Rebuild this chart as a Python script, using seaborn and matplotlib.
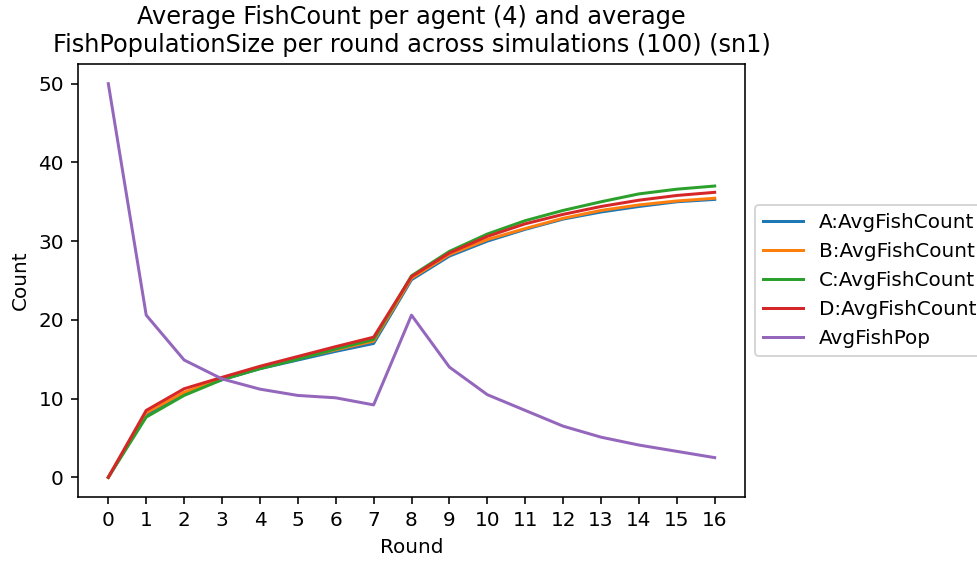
import matplotlib
matplotlib.use("Agg")
import matplotlib.pyplot as plt
import seaborn as sns
import pandas as pd

rounds = list(range(17))

a_fish = [0.0, 8.0, 10.7, 12.4, 13.8, 14.9, 16.0, 17.0, 25.1, 28.1, 30.0, 31.5, 32.8, 33.7, 34.4, 35.0, 35.3]
b_fish = [0.0, 8.2, 10.8, 12.5, 13.9, 15.1, 16.2, 17.3, 25.3, 28.3, 30.2, 31.6, 32.9, 33.9, 34.6, 35.1, 35.45]
c_fish = [0.0, 7.65, 10.4, 12.4, 13.8, 15.0, 16.3, 17.5, 25.6, 28.7, 30.9, 32.6, 33.9, 35.0, 36.0, 36.6, 37.0]
d_fish = [0.0, 8.5, 11.25, 12.7, 14.1, 15.35, 16.6, 17.8, 25.5, 28.5, 30.6, 32.2, 33.4, 34.4, 35.2, 35.8, 36.2]
fish_pop = [50.0, 20.6, 14.9, 12.5, 11.2, 10.4, 10.1, 9.2, 20.6, 14.0, 10.5, 8.5, 6.5, 5.1, 4.1, 3.3, 2.5]

series_names = ["A:AvgFishCount", "B:AvgFishCount", "C:AvgFishCount", "D:AvgFishCount", "AvgFishPop"]
series_values = [a_fish, b_fish, c_fish, d_fish, fish_pop]

df = pd.concat(
    [pd.DataFrame({"Round": rounds, "Count": vals, "Series": name})
     for name, vals in zip(series_names, series_values)],
    ignore_index=True,
)

dpi = 144
fig = plt.figure(figsize=(977 / dpi, 563 / dpi), dpi=dpi)
ax = fig.add_axes([78 / 977, 1 - 497 / 563, (745 - 78) / 977, (497 - 64) / 563])

palette = dict(zip(series_names, sns.color_palette("tab10", 5)))
sns.lineplot(data=df, x="Round", y="Count", hue="Series", hue_order=series_names,
             palette=palette, linewidth=1.5, ax=ax)

ax.set_xticks(rounds)
ax.set_xlabel("Round")
ax.set_ylabel("Count")
ax.set_title("Average FishCount per agent (4) and average\n"
             "FishPopulationSize per round across simulations (100) (sn1)")
ax.legend(loc="center left", bbox_to_anchor=(1, 0.5))

fig.savefig("out.png", dpi=dpi)
